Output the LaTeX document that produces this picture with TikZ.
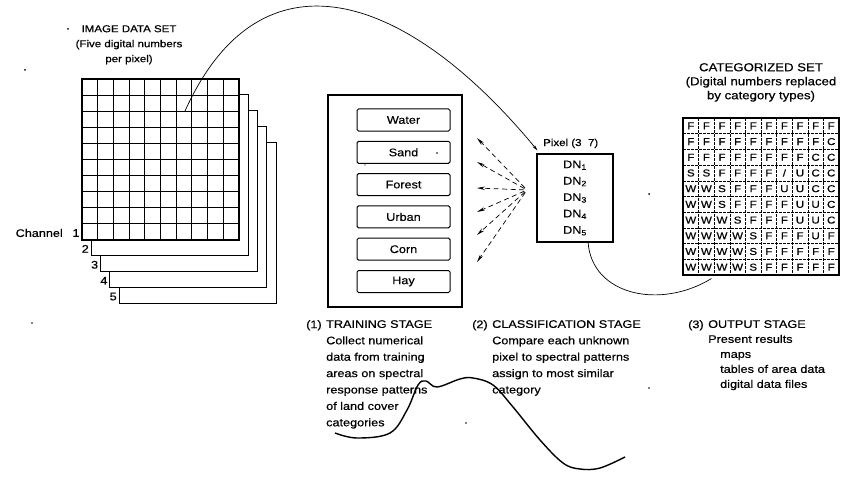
\documentclass[tikz,border=0pt]{standalone}
\usepackage{fontspec}
\setmainfont{Liberation Sans}[FakeStretch=1.15,FakeBold=0.5]
\usetikzlibrary{arrows.meta,calc}
\begin{document}
\begin{tikzpicture}[x=1pt,y=-1pt,
  every node/.style={inner sep=0pt},
  stacklayer/.style={draw,line width=1.1pt,fill=white},
  gline/.style={line width=1.1pt},
  cline/.style={line width=0.6pt,dash pattern=on 2.5pt off 1.5pt},
  catbox/.style={draw,line width=1pt,rounded corners=1.5pt,minimum width=93pt,minimum height=22pt,font=\fontsize{11}{12}\selectfont},
  fanline/.style={line width=0.7pt,dash pattern=on 5pt off 3.5pt,-{Stealth[length=8pt,width=3.4pt]},shorten <=3pt},
  bigcurve/.style={line width=0.7pt},
  ttl/.style={align=center,font=\fontsize{10}{15}\selectfont},
  stagetxt/.style={align=left,anchor=north west,font=\fontsize{11}{16.4}\selectfont},
  numlab/.style={font=\fontsize{11}{12}\selectfont},
  speck/.style={fill=black,circle,minimum size=2pt}
]
\useasboundingbox (0,0) rectangle (850,476);

% ---------- image data set stack ----------
\foreach \k in {4,3,2,1}{
  \draw[stacklayer,shift={(\k*9.3,\k*15.9)}] (82,79) rectangle (239,240);
}
\draw[stacklayer] (82,79) rectangle (239,240);
\foreach \i in {1,...,9}{
  \draw[gline] ({82+\i*15.7},79) -- ({82+\i*15.7},240);
  \draw[gline] (82,{79+\i*16.1}) -- (239,{79+\i*16.1});
}
\node[numlab,anchor=east] (ch) at (63,233) {Channel};
\node[numlab] (c1) at (76,233) {1};
\foreach \k/\n in {1/2,2/3,3/4,4/5}
  \node[numlab] (c\n) at ({76+\k*9.3},{233+\k*15.9}) {\n};

\node[ttl,anchor=north] (t1) at (129,25) {IMAGE DATA SET\\(Five digital numbers\\per pixel)};

% ---------- training stage box ----------
\node[draw,line width=1.1pt,minimum width=134pt,minimum height=212pt] (train) at (395,201) {};
\foreach \t [count=\j from 0] in {Water,Sand,Forest,Urban,Corn,Hay}
  \node[catbox] (cb\j) at (403.5,{120+\j*32.3}) {\t};

% ---------- pixel box ----------
\node[draw,line width=1.1pt,minimum width=76pt,minimum height=88pt,align=left,
      font=\fontsize{11}{16.4}\selectfont] (pixbox) at (575,198)
  {DN\textsubscript{1}\\DN\textsubscript{2}\\DN\textsubscript{3}\\DN\textsubscript{4}\\DN\textsubscript{5}};
\node[anchor=base west,font=\fontsize{10}{11}\selectfont] (pixlab) at (543,146) {Pixel (3\ \ 7)};

% ---------- fan of comparison arrows ----------
\coordinate (conv) at (527,190);
\foreach \yy [count=\j] in {138,162,188,212,235,262}{
  \coordinate (fe\j) at (477,\yy);
  \draw[fanline] (conv) -- (fe\j);
}

% ---------- categorized set ----------
\node[draw,line width=1.1pt,minimum width=156pt,minimum height=157pt] (cat) at (761,196.5) {};
\foreach \i in {1,...,9}{
  \draw[cline] ({683+\i*15.6},118) -- ({683+\i*15.6},275);
  \draw[cline] (683,{118+\i*15.7}) -- (839,{118+\i*15.7});
}
\foreach \row [count=\r from 0] in {
  {F,F,F,F,F,F,F,F,F,F},
  {F,F,F,F,F,F,F,F,F,C},
  {F,F,F,F,F,F,F,F,C,C},
  {S,S,F,F,F,F,/,U,C,C},
  {W,W,S,F,F,F,U,U,C,C},
  {W,W,S,F,F,F,F,U,U,C},
  {W,W,W,S,F,F,F,U,U,C},
  {W,W,W,W,S,F,F,F,U,F},
  {W,W,W,W,S,F,F,F,F,F},
  {W,W,W,W,S,F,F,F,F,F}}{
  \foreach \l [count=\c from 0] in \row {
    \node[font=\fontsize{10}{11}\selectfont] (L\r-\c) at ({690.8+\c*15.6},{125.9+\r*15.7}) {\l};
  }
}
\node[ttl,anchor=north,font=\fontsize{11.5}{14}\selectfont] (t3) at (761,63)
  {CATEGORIZED SET\\(Digital numbers replaced\\by category types)};

% ---------- connectors ----------
\coordinate (gpix) at (185,111);
\draw[bigcurve,-{Stealth[length=6pt,width=3pt]}] (gpix) .. controls (260,-55) and (405,-10) .. ($(pixbox.north west)+(1,-3)$);
\draw[bigcurve] ($(pixbox.south west)!0.67!(pixbox.south east)$) .. controls (592,295) and (660,310) .. ($(cat.south west)+(29,3)$);

% ---------- stage texts ----------
\node[stagetxt] (n1) at (306,320) {(1)};
\node[stagetxt] (s1) at (326,320) {TRAINING STAGE\\Collect numerical\\data from training\\areas on spectral\\response patterns\\of land cover\\categories};
\node[stagetxt] (n2) at (472,320) {(2)};
\node[stagetxt] (s2) at (492,320) {CLASSIFICATION STAGE\\Compare each unknown\\pixel to spectral patterns\\assign to most similar\\category};
\node[stagetxt] (n3) at (688,320) {(3)};
\node[stagetxt,font=\fontsize{11}{15}\selectfont] (s3) at (708,320) {OUTPUT STAGE\\Present results\\\hspace*{12pt}maps\\\hspace*{12pt}tables of area data\\\hspace*{12pt}digital data files};

% ---------- spectral response curve ----------
\draw[line width=1.4pt] plot[smooth,tension=0.6] coordinates {(335,433) (357,438) (390,433) (407,410) (418,385) (426,381) (437,387) (460,379) (473,378) (493,385) (513,407) (540,440) (563,463) (580,469) (600,468) (625,457)};

% ---------- specks ----------
\node[speck] (sp0) at (68,29) {};
\node[speck] (sp1) at (25,70) {};
\node[speck,minimum size=1.6pt] (sp2) at (32,323) {};
\node[speck] (sp3) at (649,194) {};
\node[speck,minimum size=1.6pt] (sp4) at (466,423) {};
\node[speck,minimum size=1.6pt] (sp5) at (649,388) {};
\node[speck,minimum size=1.6pt] (sp6) at (437,153) {};
\node[speck,minimum size=1.2pt] (sp7) at (365,165) {};
\end{tikzpicture}
\end{document}
